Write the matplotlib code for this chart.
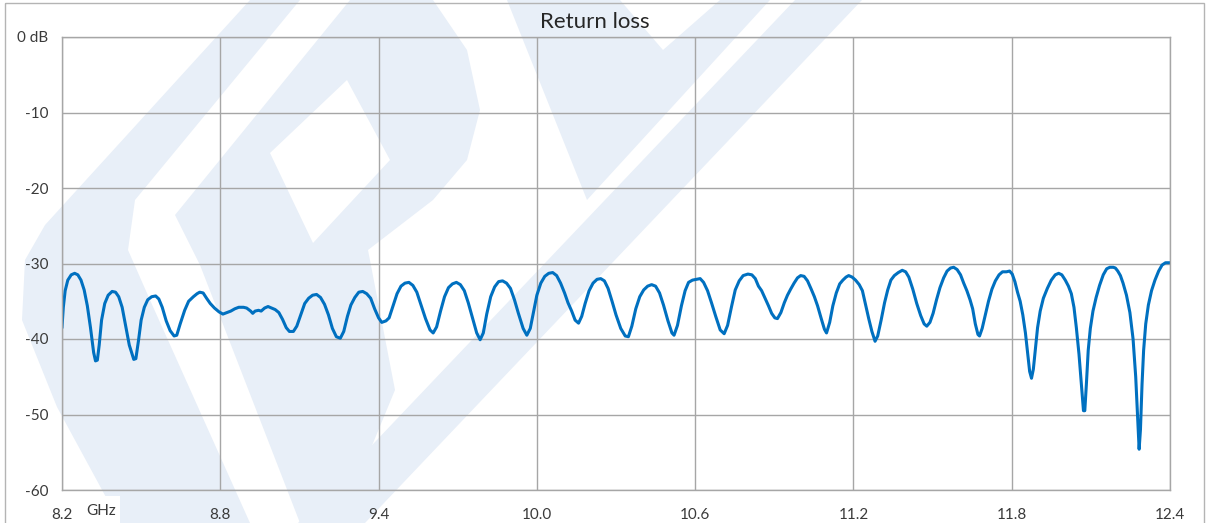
# Return loss chart (8.2 - 12.4 GHz)
import matplotlib.pyplot as plt
from matplotlib.patches import Polygon, Rectangle

# trace: (frequency GHz, return loss dB)
trace = [
    (8.200, -38.4), (8.205, -35.8), (8.212, -33.6), (8.222, -32.2), (8.235, -31.5),
    (8.248, -31.3), (8.260, -31.5), (8.272, -32.2), (8.284, -33.5), (8.296, -35.6),
    (8.308, -38.5), (8.320, -41.8), (8.327, -42.9), (8.334, -42.8), (8.341, -40.8),
    (8.350, -37.5), (8.362, -35.3), (8.375, -34.2), (8.390, -33.7), (8.403, -33.8),
    (8.415, -34.4), (8.428, -35.8), (8.440, -38.0), (8.455, -40.8), (8.472, -42.7),
    (8.480, -42.6), (8.490, -40.2), (8.500, -37.5), (8.512, -35.8), (8.525, -34.8),
    (8.540, -34.4), (8.555, -34.3), (8.567, -34.7), (8.580, -35.8), (8.595, -37.6),
    (8.610, -38.9), (8.625, -39.6), (8.635, -39.5), (8.648, -38.0), (8.665, -36.2),
    (8.680, -35.0), (8.698, -34.4), (8.712, -34.0), (8.722, -33.8), (8.735, -33.9),
    (8.748, -34.6), (8.762, -35.3), (8.778, -35.9), (8.795, -36.4), (8.810, -36.7),
    (8.825, -36.5), (8.840, -36.3), (8.855, -36.0), (8.870, -35.8), (8.888, -35.8),
    (8.900, -35.9), (8.915, -36.3), (8.923, -36.6), (8.932, -36.3), (8.945, -36.2),
    (8.955, -36.3), (8.968, -35.9), (8.981, -35.7), (8.995, -35.9), (9.008, -36.1),
    (9.022, -36.5), (9.036, -37.4), (9.050, -38.5), (9.062, -39.0), (9.077, -39.0),
    (9.090, -38.3), (9.105, -36.8), (9.120, -35.3), (9.135, -34.6), (9.150, -34.2),
    (9.165, -34.1), (9.180, -34.5), (9.195, -35.4), (9.210, -36.8), (9.225, -38.6),
    (9.240, -39.7), (9.255, -39.9), (9.268, -39.0), (9.282, -37.0), (9.295, -35.5),
    (9.310, -34.5), (9.325, -33.8), (9.340, -33.7), (9.355, -34.0), (9.370, -34.6),
    (9.385, -36.0), (9.400, -37.2), (9.412, -37.8), (9.428, -37.6), (9.440, -37.2),
    (9.455, -35.6), (9.470, -34.0), (9.485, -33.0), (9.500, -32.6), (9.515, -32.5),
    (9.530, -32.9), (9.545, -33.8), (9.560, -35.4), (9.578, -37.3), (9.595, -38.8),
    (9.607, -39.2), (9.620, -38.4), (9.635, -36.3), (9.650, -34.4), (9.665, -33.2),
    (9.680, -32.7), (9.695, -32.5), (9.710, -32.8), (9.725, -33.6), (9.740, -35.2),
    (9.757, -37.3), (9.772, -39.2), (9.785, -40.1), (9.797, -39.2), (9.810, -36.7),
    (9.825, -34.4), (9.840, -33.1), (9.855, -32.4), (9.870, -32.3), (9.885, -32.6),
    (9.900, -33.3), (9.915, -34.8), (9.930, -36.6), (9.948, -38.6), (9.962, -39.5),
    (9.975, -38.6), (9.988, -36.3), (10.000, -34.2), (10.015, -32.6), (10.030, -31.7),
    (10.045, -31.3), (10.060, -31.2), (10.075, -31.6), (10.090, -32.6), (10.105, -33.9),
    (10.118, -35.2), (10.132, -36.3), (10.145, -37.5), (10.158, -37.9), (10.170, -37.0),
    (10.183, -35.3), (10.198, -33.6), (10.213, -32.6), (10.228, -32.1), (10.242, -32.0),
    (10.256, -32.3), (10.270, -33.3), (10.285, -35.0), (10.300, -36.8), (10.318, -38.6),
    (10.335, -39.6), (10.347, -39.7), (10.360, -38.3), (10.375, -36.0), (10.390, -34.4),
    (10.405, -33.5), (10.420, -33.0), (10.435, -32.8), (10.450, -33.0), (10.465, -33.9),
    (10.480, -35.5), (10.497, -37.6), (10.512, -39.2), (10.520, -39.5), (10.533, -38.2),
    (10.548, -35.6), (10.562, -33.6), (10.575, -32.5), (10.590, -32.2), (10.605, -32.1),
    (10.619, -32.0), (10.632, -32.5), (10.647, -33.6), (10.662, -35.2), (10.678, -37.0),
    (10.695, -38.8), (10.710, -39.3), (10.723, -38.2), (10.738, -35.7), (10.752, -33.5),
    (10.767, -32.3), (10.782, -31.6), (10.800, -31.4), (10.815, -31.5), (10.828, -32.0),
    (10.840, -33.0), (10.852, -33.6), (10.865, -34.6), (10.878, -35.6), (10.890, -36.6),
    (10.902, -37.2), (10.912, -37.3), (10.925, -36.5), (10.938, -35.2), (10.950, -34.2),
    (10.962, -33.4), (10.975, -32.6), (10.988, -31.9), (11.000, -31.6), (11.013, -31.7),
    (11.026, -32.3), (11.040, -33.4), (11.052, -34.4), (11.064, -35.6), (11.078, -37.3),
    (11.090, -38.7), (11.098, -39.2), (11.110, -37.8), (11.122, -35.6), (11.135, -33.9),
    (11.148, -32.7), (11.160, -32.2), (11.172, -31.8), (11.182, -31.6), (11.195, -31.8),
    (11.208, -32.2), (11.222, -32.8), (11.234, -33.6), (11.245, -35.3), (11.258, -37.3),
    (11.270, -39.0), (11.282, -40.3), (11.292, -39.6), (11.305, -37.5), (11.318, -35.2),
    (11.330, -33.5), (11.342, -32.2), (11.355, -31.6), (11.370, -31.2), (11.385, -30.9),
    (11.398, -31.1), (11.410, -31.8), (11.425, -33.4), (11.440, -35.3), (11.455, -36.9),
    (11.468, -38.0), (11.478, -38.3), (11.490, -37.8), (11.502, -36.6), (11.515, -34.8),
    (11.528, -33.2), (11.542, -31.9), (11.555, -31.0), (11.568, -30.6), (11.580, -30.5),
    (11.593, -30.8), (11.606, -31.5), (11.618, -32.6), (11.630, -33.6), (11.642, -34.8),
    (11.652, -36.0), (11.662, -38.0), (11.672, -39.4), (11.678, -39.6), (11.688, -38.6),
    (11.700, -36.8), (11.712, -35.0), (11.725, -33.4), (11.738, -32.3), (11.752, -31.5),
    (11.765, -31.1), (11.780, -31.1), (11.792, -31.0), (11.802, -31.4), (11.812, -32.4),
    (11.822, -33.8), (11.832, -35.0), (11.842, -36.8), (11.852, -39.2), (11.860, -41.8),
    (11.868, -44.3), (11.875, -45.2), (11.882, -44.0), (11.890, -41.2), (11.898, -38.5),
    (11.908, -36.3), (11.920, -34.6), (11.935, -33.3), (11.950, -32.2), (11.965, -31.5),
    (11.978, -31.3), (11.990, -31.5), (12.003, -32.2), (12.015, -33.0), (12.026, -34.0),
    (12.036, -35.8), (12.045, -38.5), (12.055, -42.0), (12.064, -46.0), (12.072, -49.5),
    (12.077, -49.5), (12.083, -46.0), (12.090, -41.5), (12.098, -38.6), (12.108, -36.3),
    (12.120, -34.5), (12.133, -32.9), (12.147, -31.5), (12.160, -30.7), (12.172, -30.5),
    (12.185, -30.5), (12.193, -30.6), (12.202, -31.0), (12.212, -31.6), (12.222, -32.6),
    (12.235, -34.2), (12.248, -36.5), (12.260, -40.0), (12.270, -45.0), (12.278, -51.0),
    (12.283, -54.6), (12.288, -52.0), (12.294, -46.0), (12.300, -41.5), (12.308, -38.0),
    (12.318, -35.5), (12.330, -33.6), (12.343, -32.2), (12.357, -31.0), (12.370, -30.2),
    (12.383, -29.9), (12.400, -29.9),
]
freq = [p[0] for p in trace]
loss = [p[1] for p in trace]

x_ticks = [8.2, 8.8, 9.4, 10.0, 10.6, 11.2, 11.8, 12.4]
x_labels = ['8.2', '8.8', '9.4', '10.0', '10.6', '11.2', '11.8', '12.4']
y_ticks = [0, -10, -20, -30, -40, -50, -60]
y_labels = ['0 dB', '-10', '-20', '-30', '-40', '-50', '-60']

plt.rcParams['font.family'] = ['Lato', 'DejaVu Sans']

W, H = 1206, 523
fig = plt.figure(figsize=(W / 100, H / 100), dpi=100)

# background watermark (pixel coordinates, y down)
bg = fig.add_axes([0, 0, 1, 1], zorder=-1)
bg.set_xlim(0, W)
bg.set_ylim(H, 0)
bg.axis('off')
wm = '#e8eff8'
shapes = [
    [(250, 0), (300, 0), (135, 200), (128, 250), (150, 300), (250, 523), (120, 523),
     (57, 407), (22, 320), (25, 260), (45, 225)],
    [(175, 215), (350, 0), (433, 0), (467, 50), (480, 110), (467, 160), (433, 200),
     (368, 250), (395, 390), (340, 523), (300, 523), (200, 265)],
    [(507, 0), (620, 0), (663, 50), (720, 0), (770, 0), (587, 200)],
    [(795, 0), (862, 0), (365, 523), (298, 523)],
]
for s in shapes:
    bg.add_patch(Polygon(s, closed=True, fc=wm, ec='none'))
bg.add_patch(Polygon([(270, 153), (347, 80), (390, 160), (313, 243)], closed=True, fc='white', ec='none'))
bg.add_patch(Rectangle((80, 496), 40, 30, fc='white', ec='none'))
bg.add_patch(Rectangle((5, 3), 1199, 530, fill=False, ec='#b4b4b4', lw=1))

ax = fig.add_axes([62 / W, 1 - 490 / H, 1108 / W, 453 / H])
ax.patch.set_alpha(0)
ax.plot(freq, loss, color='#0070c0', lw=2.2, solid_joinstyle='round')
ax.set_xlim(8.2, 12.4)
ax.set_ylim(-60, 0)
ax.set_xticks(x_ticks, labels=x_labels)
ax.set_yticks(y_ticks, labels=y_labels)
ax.grid(color='#a6a6a6', lw=1.0)
ax.set_axisbelow(True)
ax.tick_params(length=0, labelsize=11, labelcolor='#3a3a3a')
ax.tick_params(axis='x', pad=13)
ax.tick_params(axis='y', pad=10)
for sp in ax.spines.values():
    sp.set_color('#a6a6a6')
    sp.set_linewidth(1.0)

fig.text(595 / W, 1 - 22 / H, 'Return loss', ha='center', va='center', fontsize=16, color='#262626')
fig.text(101 / W, 1 - 511 / H, 'GHz', ha='center', va='center', fontsize=11, color='#3a3a3a')

fig.savefig('out.png', dpi=100)
